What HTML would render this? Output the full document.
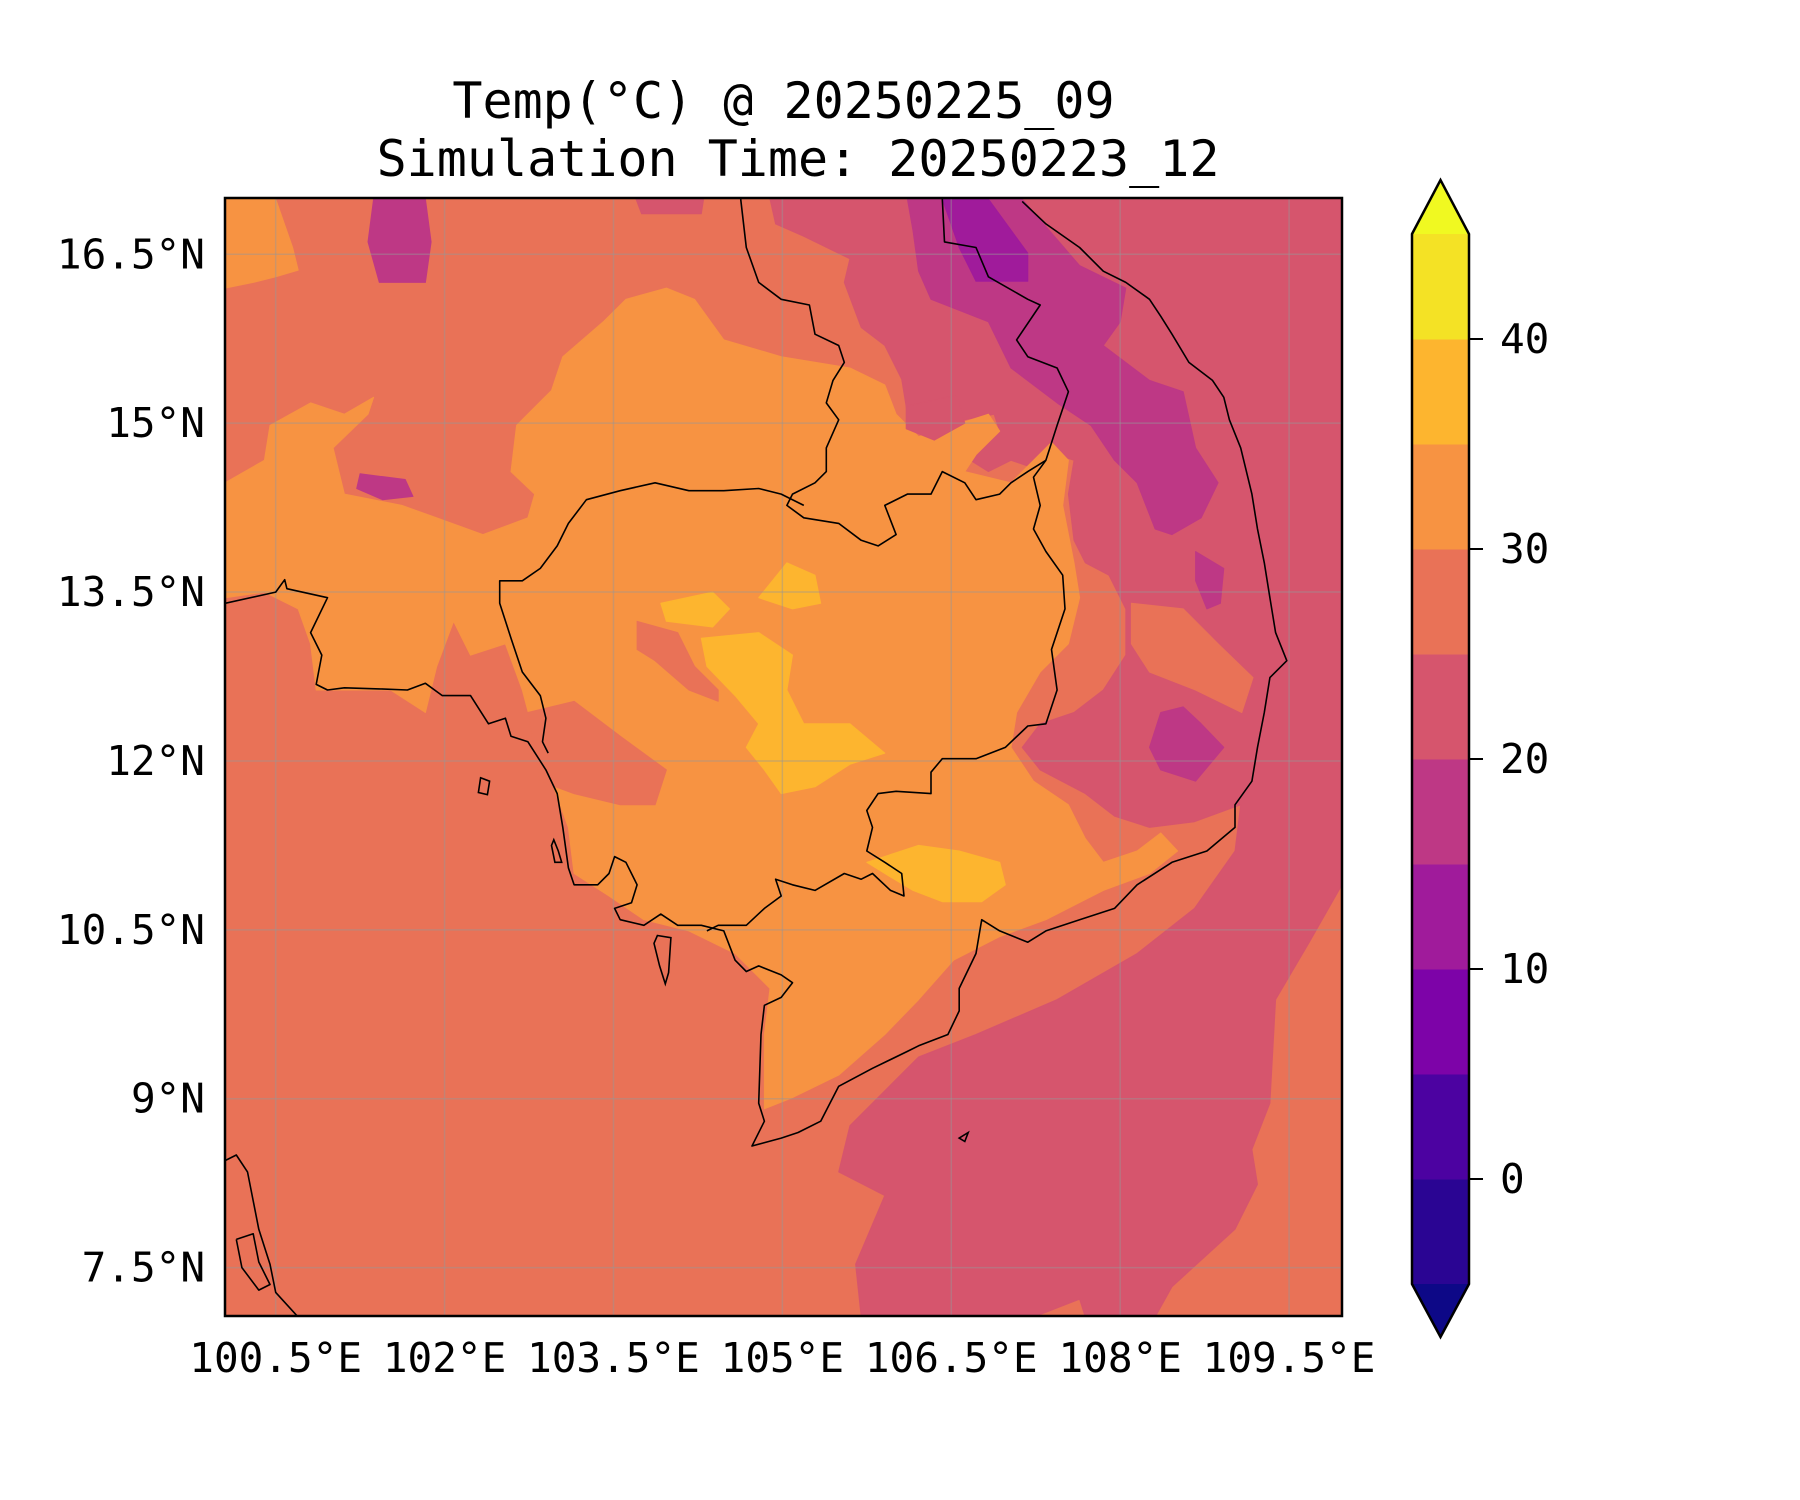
<!DOCTYPE html>
<html><head><meta charset="utf-8">
<style>
html,body{margin:0;padding:0;background:#fff;}
svg{display:block;}
text{font-family:"DejaVu Sans Mono","Liberation Mono",monospace;fill:#000;}
</style></head>
<body>
<svg id="chart" width="1800" height="1500" viewBox="0 0 1800 1500" xmlns="http://www.w3.org/2000/svg">
<rect x="0" y="0" width="1800" height="1500" fill="#fff"/>
<text x="783.5" y="101" font-size="50" text-anchor="middle" dominant-baseline="central">Temp(°C) @ 20250225_09</text>
<text x="798" y="159" font-size="50" text-anchor="middle" dominant-baseline="central">Simulation Time: 20250223_12</text>
<defs><clipPath id="plotclip"><rect x="225" y="198" width="1117" height="1118"/></clipPath></defs>
<g id="mapLayer" clip-path="url(#plotclip)"></g>
<g id="axisLayer"></g>
<g id="cbarLayer"></g>
</svg>
<script>
// ---- data ----
const lonRange = [100.05, 109.97];
const latRange = [7.07, 17.0];
const lonTicks = [100.5, 102, 103.5, 105, 106.5, 108, 109.5];
const lonTickLabels = ["100.5°E","102°E","103.5°E","105°E","106.5°E","108°E","109.5°E"];
const latTicks = [16.5, 15, 13.5, 12, 10.5, 9, 7.5];
const latTickLabels = ["16.5°N","15°N","13.5°N","12°N","10.5°N","9°N","7.5°N"];
const levels = [-5,0,5,10,15,20,25,30,35,40,45];
const bandColors = ["#2a0593","#4c02a1","#7d03a8","#a01b9b","#be3885","#d6556d","#e97257","#f79342","#fdb52f","#f4e225"];
const extendLowColor = "#0d0887";
const extendHighColor = "#f0f921";
const cbarTicks = [0,10,20,30,40];
const baseBand = 6;
// contour regions: band index + [lon,lat] vertices
const regionBands = [5, 7, 7, 4, 4, 5, 8, 8, 8, 8, 6, 6, 4, 3, 4, 4, 6, 5];
const regionNames = ["east-20-25","main-30-35","nw-30-35","thai-top-15-20-ring","vn-15-20-band","top-center-20-25","central-35-40","west-35-40","north-35-40","south-35-40","cambodia-west-25-30","cambodia-mid-25-30","vn-15-20-a","vn-10-15","vn-15-20-b","thai-ring","coastal-25-30","thai-top-ring"];
const regions = [
 [[104.89,16.99],[109.97,16.99],[109.97,10.90],[109.68,10.39],[109.38,9.88],[109.33,8.96],[109.17,8.55],[109.22,8.24],[109.02,7.84],[108.46,7.33],[108.31,7.06],[107.69,7.06],[107.64,7.22],[107.23,7.06],[105.70,7.06],[105.65,7.53],[105.91,8.14],[105.50,8.35],[105.60,8.76],[106.21,9.37],[106.72,9.57],[107.44,9.88],[108.15,10.29],[108.66,10.69],[109.02,11.20],[109.07,11.61],[108.66,11.46],[108.26,11.41],[107.95,11.51],[107.69,11.71],[107.29,11.92],[107.13,12.12],[107.29,12.33],[107.59,12.43],[107.85,12.63],[108.05,12.94],[108.05,13.35],[107.90,13.65],[107.69,13.76],[107.59,13.96],[107.54,14.37],[107.59,14.67],[107.44,14.72],[107.18,14.62],[107.03,14.67],[106.83,14.57],[106.67,14.67],[106.93,14.93],[106.88,15.08],[106.62,15.03],[106.32,14.93],[106.11,15.08],[106.06,15.39],[105.91,15.69],[105.70,15.85],[105.55,16.25],[105.60,16.46],[105.19,16.66],[104.94,16.77]],
 [[100.05,14.47],[100.40,14.67],[100.45,14.98],[100.81,15.18],[101.11,15.08],[101.37,15.23],[101.32,15.08],[101.01,14.78],[101.11,14.37],[101.62,14.27],[101.93,14.16],[102.34,14.01],[102.74,14.16],[102.80,14.37],[102.59,14.57],[102.64,14.98],[102.95,15.29],[103.05,15.59],[103.41,15.90],[103.61,16.10],[103.97,16.20],[104.22,16.10],[104.48,15.74],[104.99,15.59],[105.60,15.49],[105.91,15.34],[106.01,15.08],[106.21,14.88],[106.52,14.98],[106.83,15.08],[106.93,14.93],[106.72,14.72],[106.62,14.57],[107.03,14.47],[107.23,14.67],[107.39,14.83],[107.54,14.67],[107.49,14.27],[107.59,13.76],[107.64,13.45],[107.54,13.04],[107.29,12.79],[107.08,12.43],[107.03,12.12],[107.23,11.82],[107.54,11.61],[107.69,11.31],[107.85,11.10],[108.15,11.20],[108.36,11.36],[108.51,11.20],[108.26,11.00],[107.85,10.85],[107.34,10.59],[106.93,10.44],[106.52,10.23],[106.21,9.88],[105.91,9.57],[105.50,9.21],[105.09,9.01],[104.84,8.91],[104.84,9.57],[104.89,9.98],[104.58,10.29],[104.17,10.49],[103.77,10.59],[103.46,10.80],[103.15,11.00],[103.10,11.41],[102.95,11.82],[102.80,12.22],[102.69,12.63],[102.54,13.04],[102.23,12.94],[102.08,13.24],[101.93,12.84],[101.83,12.43],[101.52,12.63],[101.11,12.63],[100.86,12.63],[100.81,13.04],[100.70,13.35],[100.40,13.50],[100.05,13.45]],
 [[100.05,16.99],[100.50,16.99],[100.65,16.56],[100.70,16.36],[100.50,16.30],[100.30,16.25],[100.05,16.20]],
 [[101.37,16.99],[101.83,16.99],[101.88,16.61],[101.83,16.25],[101.42,16.25],[101.32,16.61]],
 [[106.11,16.99],[107.13,16.99],[107.64,16.40],[108.05,16.20],[108.00,15.90],[107.85,15.69],[108.26,15.38],[108.56,15.28],[108.67,14.78],[108.87,14.47],[108.72,14.16],[108.46,14.01],[108.31,14.06],[108.15,14.47],[107.95,14.67],[107.74,14.98],[107.44,15.18],[107.03,15.49],[106.83,15.90],[106.32,16.10],[106.21,16.35],[106.16,16.71]],
 [[103.70,16.99],[104.30,16.99],[104.28,16.86],[103.75,16.86]],
 [[104.28,13.09],[104.79,13.14],[105.09,12.94],[105.04,12.63],[105.19,12.33],[105.60,12.33],[105.91,12.07],[105.60,11.97],[105.29,11.77],[104.99,11.71],[104.84,11.92],[104.68,12.12],[104.79,12.33],[104.58,12.58],[104.33,12.84]],
 [[103.92,13.40],[104.38,13.50],[104.53,13.35],[104.38,13.19],[103.97,13.24]],
 [[105.04,13.76],[105.29,13.65],[105.34,13.40],[105.09,13.35],[104.79,13.45]],
 [[105.75,11.10],[106.21,11.25],[106.57,11.20],[106.93,11.10],[106.98,10.90],[106.77,10.75],[106.42,10.75],[106.16,10.85],[105.91,11.00]],
 [[102.74,12.43],[103.15,12.53],[103.56,12.22],[103.97,11.92],[103.87,11.61],[103.56,11.61],[103.15,11.71],[102.85,11.82]],
 [[103.71,13.24],[104.07,13.14],[104.22,12.84],[104.43,12.63],[104.43,12.53],[104.17,12.63],[103.87,12.89],[103.71,12.99]],
 [[108.67,13.86],[108.92,13.71],[108.89,13.40],[108.77,13.35],[108.67,13.60]],
 [[106.42,16.99],[106.83,16.99],[107.18,16.51],[107.18,16.26],[106.72,16.26],[106.57,16.56]],
 [[108.36,12.43],[108.56,12.48],[108.72,12.33],[108.92,12.12],[108.67,11.82],[108.36,11.92],[108.26,12.12]],
 [[101.25,14.55],[101.65,14.50],[101.72,14.35],[101.45,14.32],[101.22,14.42]],
 [[108.10,13.40],[108.56,13.35],[108.87,13.04],[109.18,12.74],[109.08,12.43],[108.67,12.63],[108.26,12.79],[108.10,13.04]],
 [[106.10,15.15],[106.55,15.25],[106.62,15.00],[106.35,14.85],[106.10,14.95]]
];
// coastlines & borders
const coastLines = [
 [[107.13,16.97],[107.34,16.77],[107.64,16.56],[107.85,16.35],[108.05,16.25],[108.26,16.10],[108.36,15.95],[108.46,15.79],[108.61,15.54],[108.82,15.38],[108.92,15.23],[108.97,15.03],[109.07,14.78],[109.17,14.37],[109.22,14.06],[109.28,13.76],[109.33,13.45],[109.38,13.14],[109.48,12.89],[109.33,12.74],[109.28,12.43],[109.22,12.12],[109.17,11.82],[109.02,11.61],[109.02,11.41],[108.77,11.20],[108.46,11.10],[108.15,10.90],[107.95,10.69],[107.64,10.59],[107.34,10.49],[107.18,10.39],[106.93,10.49],[106.77,10.59],[106.72,10.29],[106.57,9.98],[106.57,9.78],[106.47,9.57],[106.21,9.47],[106.11,9.42],[105.80,9.27],[105.50,9.11],[105.34,8.80],[105.14,8.70],[104.99,8.65],[104.73,8.58],[104.84,8.80],[104.79,8.96],[104.81,9.57],[104.84,9.83],[104.99,9.90],[105.09,10.03],[104.99,10.10],[104.79,10.18],[104.68,10.13],[104.58,10.23],[104.48,10.49],[104.28,10.54],[104.07,10.54],[103.92,10.64],[103.77,10.54],[103.56,10.59],[103.51,10.69],[103.66,10.74],[103.71,10.90],[103.61,11.10],[103.51,11.15],[103.46,11.00],[103.36,10.90],[103.15,10.90],[103.10,11.05],[103.05,11.41],[103.00,11.71],[102.90,11.92],[102.74,12.17],[102.59,12.22],[102.54,12.38],[102.39,12.33],[102.23,12.58],[101.98,12.58],[101.83,12.69],[101.67,12.63],[101.42,12.64],[101.11,12.65],[100.96,12.63],[100.86,12.68],[100.91,12.94],[100.81,13.14],[100.96,13.45],[100.60,13.53],[100.58,13.61],[100.50,13.50],[100.05,13.40]],
 [[100.05,8.45],[100.15,8.50],[100.25,8.35],[100.35,7.84],[100.45,7.53],[100.50,7.28],[100.70,7.06]],
 [[100.15,7.75],[100.30,7.80],[100.35,7.55],[100.45,7.35],[100.35,7.30],[100.20,7.50],[100.15,7.75]]
];
const borderLines = [
 [[106.42,16.99],[106.44,16.61],[106.72,16.56],[106.83,16.30],[107.18,16.10],[107.29,16.05],[107.08,15.74],[107.18,15.59],[107.44,15.49],[107.54,15.28],[107.44,14.98],[107.34,14.67],[107.23,14.52],[107.29,14.27],[107.23,14.06],[107.34,13.86],[107.49,13.65],[107.51,13.35],[107.39,12.99],[107.44,12.63],[107.34,12.33],[107.18,12.31],[106.98,12.12],[106.72,12.02],[106.42,12.02],[106.32,11.90],[106.32,11.71],[106.01,11.73],[105.85,11.71],[105.75,11.56],[105.80,11.41],[105.75,11.20],[105.91,11.10],[106.06,11.00],[106.08,10.80],[105.96,10.85],[105.80,11.00],[105.70,10.95],[105.55,11.00],[105.29,10.85],[105.09,10.90],[104.94,10.95],[104.99,10.80],[104.84,10.69],[104.68,10.54],[104.43,10.54],[104.33,10.49]],
 [[104.63,16.99],[104.68,16.56],[104.79,16.25],[104.99,16.10],[105.24,16.05],[105.29,15.79],[105.50,15.69],[105.55,15.54],[105.45,15.38],[105.39,15.18],[105.50,15.03],[105.39,14.78],[105.39,14.57],[105.29,14.47],[105.09,14.37],[105.04,14.27],[105.19,14.16],[105.50,14.11],[105.70,13.96],[105.85,13.91],[106.01,14.01],[105.91,14.27],[106.11,14.37],[106.32,14.37],[106.42,14.57],[106.62,14.47],[106.72,14.32],[106.93,14.37],[107.03,14.47],[107.18,14.57],[107.34,14.67]],
 [[105.19,14.27],[104.99,14.37],[104.79,14.42],[104.48,14.40],[104.17,14.40],[103.87,14.47],[103.56,14.40],[103.26,14.32],[103.10,14.11],[103.00,13.91],[102.85,13.71],[102.69,13.60],[102.49,13.60],[102.49,13.40],[102.59,13.09],[102.69,12.79],[102.85,12.58],[102.90,12.38],[102.87,12.17],[102.92,12.07]]
];
const islands = [
 [[103.89,10.45],[104.01,10.43],[103.99,10.12],[103.96,10.02],[103.91,10.18],[103.86,10.38]],
 [[102.32,11.85],[102.40,11.82],[102.38,11.70],[102.30,11.72]],
 [[106.57,8.65],[106.65,8.70],[106.62,8.62]],
 [[102.97,11.30],[103.01,11.20],[103.04,11.10],[102.98,11.10],[102.95,11.25]]
];

// ---- axes ----
const PX0=225, PX1=1342, PY0=198, PY1=1316;
function X(lon){return PX0+(lon-lonRange[0])/(lonRange[1]-lonRange[0])*(PX1-PX0);}
function Y(lat){return PY0+(latRange[1]-lat)/(latRange[1]-latRange[0])*(PY1-PY0);}
const CB_X0=1412, CB_X1=1469;
function CY(v){return 1179 - v*21.0;}
const NS="http://www.w3.org/2000/svg";
function mk(tag, attrs, parent){const e=document.createElementNS(NS,tag);for(const k in attrs)e.setAttribute(k,attrs[k]);parent.appendChild(e);return e;}
function ptsStr(arr){return arr.map(p=>X(p[0]).toFixed(1)+","+Y(p[1]).toFixed(1)).join(" ");}

const map=document.getElementById('mapLayer');
let bg=mk('rect',{x:PX0,y:PY0,width:PX1-PX0,height:PY1-PY0,fill:bandColors[baseBand]},map);


regions.forEach((r,i)=>{
  const p=mk('polygon',{points:ptsStr(r),fill:bandColors[regionBands[i]],stroke:bandColors[regionBands[i]],'stroke-width':1,'stroke-linejoin':'round'},map);
  
  
});
// gridlines
lonTicks.forEach((t,i)=>{
  const l=mk('line',{x1:X(t),x2:X(t),y1:PY0,y2:PY1,stroke:'rgba(150,150,150,0.45)','stroke-width':1.5},map);
  
  
});
latTicks.forEach((t,i)=>{
  const l=mk('line',{x1:PX0,x2:PX1,y1:Y(t),y2:Y(t),stroke:'rgba(150,150,150,0.45)','stroke-width':1.5},map);
  
  
});
coastLines.forEach((c,i)=>{
  const l=mk('polyline',{points:ptsStr(c),fill:'none',stroke:'#000','stroke-width':1.6,'stroke-linejoin':'round'},map);
  
  
});
borderLines.forEach((c,i)=>{
  const l=mk('polyline',{points:ptsStr(c),fill:'none',stroke:'#000','stroke-width':1.6,'stroke-linejoin':'round'},map);
  
  
});
islands.forEach((c,i)=>{
  const l=mk('polygon',{points:ptsStr(c),fill:'none',stroke:'#000','stroke-width':1.6},map);
  
  
});

const ax=document.getElementById('axisLayer');
let frame=mk('rect',{x:PX0,y:PY0,width:PX1-PX0,height:PY1-PY0,fill:'none',stroke:'#000','stroke-width':2.5},ax);


lonTicks.forEach((t,i)=>{
  const tx=mk('text',{x:X(t),y:1358,'font-size':41,'text-anchor':'middle','dominant-baseline':'central'},ax);
  tx.textContent=lonTickLabels[i];
  
  
});
latTicks.forEach((t,i)=>{
  const tx=mk('text',{x:205,y:Y(t),'font-size':41,'text-anchor':'end','dominant-baseline':'central'},ax);
  tx.textContent=latTickLabels[i];
  
  
});

// ---- colorbar ----
const cb=document.getElementById('cbarLayer');
for(let k=0;k<bandColors.length;k++){
  const y0=CY(levels[k+1]), y1=CY(levels[k]);
  const r=mk('rect',{x:CB_X0,y:y0,width:CB_X1-CB_X0,height:y1-y0+0.5,fill:bandColors[k]},cb);
  
  
}
const cmid=(CB_X0+CB_X1)/2;
const topY=CY(levels[levels.length-1]), botY=CY(levels[0]);
const topTip=topY-54, botTip=botY+53;
let tt=mk('polygon',{points:`${CB_X0},${topY} ${cmid},${topTip} ${CB_X1},${topY}`,fill:extendHighColor},cb);


let bt=mk('polygon',{points:`${CB_X0},${botY} ${cmid},${botTip} ${CB_X1},${botY}`,fill:extendLowColor},cb);


let outline=mk('polygon',{points:`${CB_X0},${topY} ${cmid},${topTip} ${CB_X1},${topY} ${CB_X1},${botY} ${cmid},${botTip} ${CB_X0},${botY}`,fill:'none',stroke:'#000','stroke-width':2.5},cb);


cbarTicks.forEach((v,i)=>{
  const l=mk('line',{x1:CB_X1,x2:CB_X1+14,y1:CY(v),y2:CY(v),stroke:'#000','stroke-width':2},cb);
  
  
  const tx=mk('text',{x:1500,y:CY(v),'font-size':41,'text-anchor':'start','dominant-baseline':'central'},cb);
  tx.textContent=String(v);
  
  
});
</script>
</body></html>
